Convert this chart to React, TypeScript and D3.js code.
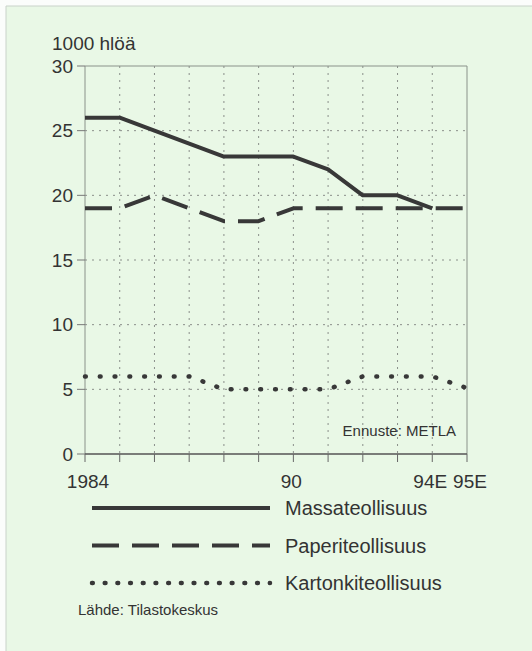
import React from "react";
import * as d3 from "d3";

const years = [1984, 1985, 1986, 1987, 1988, 1989, 1990, 1991, 1992, 1993, 1994, 1995];
const massa: (number | null)[] = [26, 26, 25, 24, 23, 23, 23, 22, 20, 20, 19, null];
const paperi: (number | null)[] = [19, 19, 20, 19, 18, 18, 19, 19, 19, 19, 19, 19];
const kartonki: (number | null)[] = [6, 6, 6, 6, 5, 5, 5, 5, 6, 6, 6, 5.1];
const yTicks = [0, 5, 10, 15, 20, 25, 30];
const xLabels: { year: number; label: string }[] = [
  { year: 1984, label: "1984" },
  { year: 1990, label: "90" },
  { year: 1994, label: "94E" },
  { year: 1995, label: "95E" },
];
const seriesNames = ["Massateollisuus", "Paperiteollisuus", "Kartonkiteollisuus"];

const W = 532;
const H = 651;
const L = 85, R = 467, T = 66, B = 454;
const FONT = "'Liberation Sans', Arial, Helvetica, sans-serif";
const INK = "#383838";
const TXT = "#333";
const styles = [
  { dash: undefined as string | undefined, width: 4, cap: "butt" },
  { dash: "27,13", width: 4, cap: "butt" },
  { dash: "0.8,14", width: 4.5, cap: "round" },
];

export default function App() {
  const x = d3.scaleLinear().domain([1984, 1995]).range([L, R]);
  const y = d3.scaleLinear().domain([0, 30]).range([B, T]);
  const line = d3
    .line<number | null>()
    .defined((d) => d !== null)
    .x((_, i) => x(years[i]))
    .y((d) => y(d as number));
  const data = [massa, paperi, kartonki];

  return (
    <svg
      width={W}
      height={H}
      style={{ position: "absolute", left: 0, top: 0 }}
      fontFamily={FONT}
    >
      <rect x={0} y={0} width={W} height={H} fill="#fbfdfb" />
      <rect x={6} y={6} width={W - 6} height={H - 6} fill="#e9f8e6" />
      <line x1={6} y1={6} x2={W} y2={6} stroke="#c9d2c9" strokeWidth={1} />
      <line x1={6} y1={6} x2={6} y2={H} stroke="#c9d2c9" strokeWidth={1} />

      {/* grid */}
      {years.slice(1, -1).map((yr) => (
        <line
          key={"v" + yr}
          x1={x(yr)}
          x2={x(yr)}
          y1={T}
          y2={B}
          stroke="#8a8f8a"
          strokeWidth={1}
          strokeDasharray="2,5"
        />
      ))}
      {yTicks.slice(1, -1).map((v) => (
        <line
          key={"h" + v}
          x1={L}
          x2={R}
          y1={y(v)}
          y2={y(v)}
          stroke="#8a8f8a"
          strokeWidth={1}
          strokeDasharray="2,5"
        />
      ))}

      {/* frame */}
      <line x1={L} x2={R} y1={T} y2={T} stroke="#8a928a" strokeWidth={1} />
      <line x1={R} x2={R} y1={T} y2={B} stroke="#8a928a" strokeWidth={1} />
      <line x1={L} x2={L} y1={T} y2={B} stroke="#8a928a" strokeWidth={1} />
      <line x1={L} x2={R} y1={B} y2={B} stroke="#555" strokeWidth={1.5} />

      {/* y ticks */}
      {yTicks.map((v) => (
        <g key={"yt" + v}>
          <line x1={L - 8} x2={L} y1={y(v)} y2={y(v)} stroke="#777" strokeWidth={1} />
          <text
            x={L - 12}
            y={y(v)}
            textAnchor="end"
            dominantBaseline="central"
            fontSize={19}
            fill={TXT}
          >
            {v}
          </text>
        </g>
      ))}
      {/* x ticks */}
      {years.map((yr) => (
        <line key={"xt" + yr} x1={x(yr)} x2={x(yr)} y1={B} y2={B + 8} stroke="#666" strokeWidth={1} />
      ))}
      {xLabels.map((d) => (
        <text
          key={"xl" + d.label}
          x={x(d.year) + (d.label === "1984" ? 3 : d.label === "95E" ? 3 : -2)}
          y={488}
          textAnchor="middle"
          fontSize={19}
          fill={TXT}
        >
          {d.label}
        </text>
      ))}

      <text x={52} y={50} fontSize={19} fill={TXT}>
        1000 hlöä
      </text>

      {/* series */}
      {data.map((s, i) => (
        <path
          key={"s" + i}
          d={line(s) || ""}
          fill="none"
          stroke={INK}
          strokeWidth={styles[i].width}
          strokeDasharray={styles[i].dash}
          strokeLinecap={styles[i].cap as any}
          strokeLinejoin="round"
        />
      ))}

      <text x={456} y={436} textAnchor="end" fontSize={15} fill={TXT}>
        Ennuste: METLA
      </text>

      {/* legend */}
      {seriesNames.map((n, i) => {
        const ly = 508 + i * 37.5;
        return (
          <g key={"lg" + i}>
            <line
              x1={92}
              x2={270}
              y1={ly}
              y2={ly}
              stroke={INK}
              strokeWidth={styles[i].width}
              strokeDasharray={i === 2 ? "0.8,11.9" : styles[i].dash}
              strokeLinecap={styles[i].cap as any}
            />
            <text x={285} y={ly + 7} fontSize={20} fill={TXT}>
              {n}
            </text>
          </g>
        );
      })}
      <text x={78} y={615} fontSize={15} fill={TXT}>
        Lähde: Tilastokeskus
      </text>
    </svg>
  );
}
